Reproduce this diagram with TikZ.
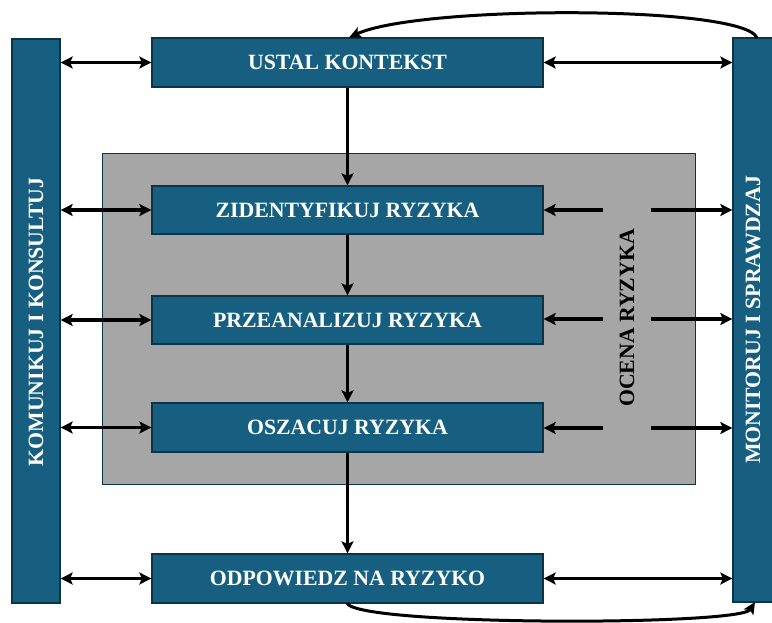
\documentclass[tikz,border=0pt]{standalone}
\usepackage{fontspec}
\setmainfont{Liberation Serif}
\usetikzlibrary{arrows.meta}
\definecolor{boxblue}{RGB}{23,95,128}
\definecolor{boxedge}{RGB}{12,52,72}
\definecolor{panelgray}{RGB}{166,166,166}
\tikzset{
  blk/.style={draw=boxedge, line width=1.3pt, fill=boxblue, text=white,
    font=\bfseries\fontsize{21.8}{24}\selectfont, inner sep=0pt},
  procbox/.style={blk, minimum width=391pt},
  sidebar/.style={blk, minimum height=564pt},
  panel/.style={draw=boxedge, line width=1pt, fill=panelgray, inner sep=0pt},
  tip/.style={Stealth[length=12pt,width=12pt,inset=2.5pt]},
  arr/.style={line width=3.6pt, draw=black, -{Stealth[length=12pt,width=12pt,inset=2.5pt]}},
  darr/.style={line width=3.6pt, draw=black, {Stealth[length=12pt,width=12pt,inset=2.5pt]}-{Stealth[length=12pt,width=12pt,inset=2.5pt]}},
  curvearr/.style={line width=3pt, draw=black, -{Stealth[length=12pt,width=11pt,inset=2.5pt]}}
}
\begin{document}
\begin{tikzpicture}[x=1pt,y=-1pt]
\useasboundingbox (0,0) rectangle (772,622);

% assessment panel
\node[panel, minimum width=593pt, minimum height=331pt] (panel) at (398.5,318.5) {};
\node[font=\bfseries\fontsize{21.8}{24}\selectfont, rotate=90] (ocena) at (627,318) {OCENA RYZYKA};

% side bars
\node[sidebar, minimum width=48pt] (lbar) at (36,321) {};
\node[rotate=90, text=white, font=\bfseries\fontsize{21.8}{24}\selectfont] (ltext) at (36,322) {KOMUNIKUJ I KONSULTUJ};
\node[sidebar, minimum width=40pt] (rbar) at (753,320) {};
\node[rotate=90, text=white, font=\bfseries\fontsize{21.8}{24}\selectfont] (rtext) at (753,320) {MONITORUJ I SPRAWDZAJ};

% process steps
\node[procbox, minimum height=49pt] (ustal) at (347.5,62.5) {USTAL KONTEKST};
\node[procbox, minimum height=48pt] (zid) at (347.5,210) {ZIDENTYFIKUJ RYZYKA};
\node[procbox, minimum height=48pt] (prz) at (347.5,320) {PRZEANALIZUJ RYZYKA};
\node[procbox, minimum height=49pt] (osz) at (347.5,427.5) {OSZACUJ RYZYKA};
\node[procbox, minimum height=49pt] (odp) at (347.5,578.5) {ODPOWIEDZ NA RYZYKO};

% main flow
\draw[arr] (ustal.south) -- (zid.north);
\draw[arr] (zid.south) -- (prz.north);
\draw[arr] (prz.south) -- (osz.north);
\draw[arr] (osz.south) -- (odp.north);

% communication links
\foreach \b in {ustal,zid,prz,osz,odp}{
  \draw[darr] (lbar.east |- \b.west) -- (\b.west);
}
\draw[darr] (ustal.east) -- (rbar.west |- ustal.east);
\draw[darr] (odp.east) -- (rbar.west |- odp.east);

% monitoring links through the assessment panel
\foreach \b/\y in {zid/210,prz/319,osz/428}{
  \coordinate (\b-in) at (603,\y);
  \coordinate (\b-out) at (651,\y);
  \draw[arr] (\b-in) -- (\b.east |- \b-in);
  \draw[arr] (\b-out) -- (rbar.west |- \b-out);
}

% feedback loops
\coordinate (rtop) at (757,38);
\coordinate (ustop) at (349,37.5);
\draw[curvearr] (rtop) .. controls (745,5) and (420,5) .. (ustop);
\coordinate (odbot) at (347,603);
\coordinate (rbot) at (755,602);
\draw[curvearr] (odbot) .. controls (355,626) and (740,626) .. (rbot);
\end{tikzpicture}
\end{document}
